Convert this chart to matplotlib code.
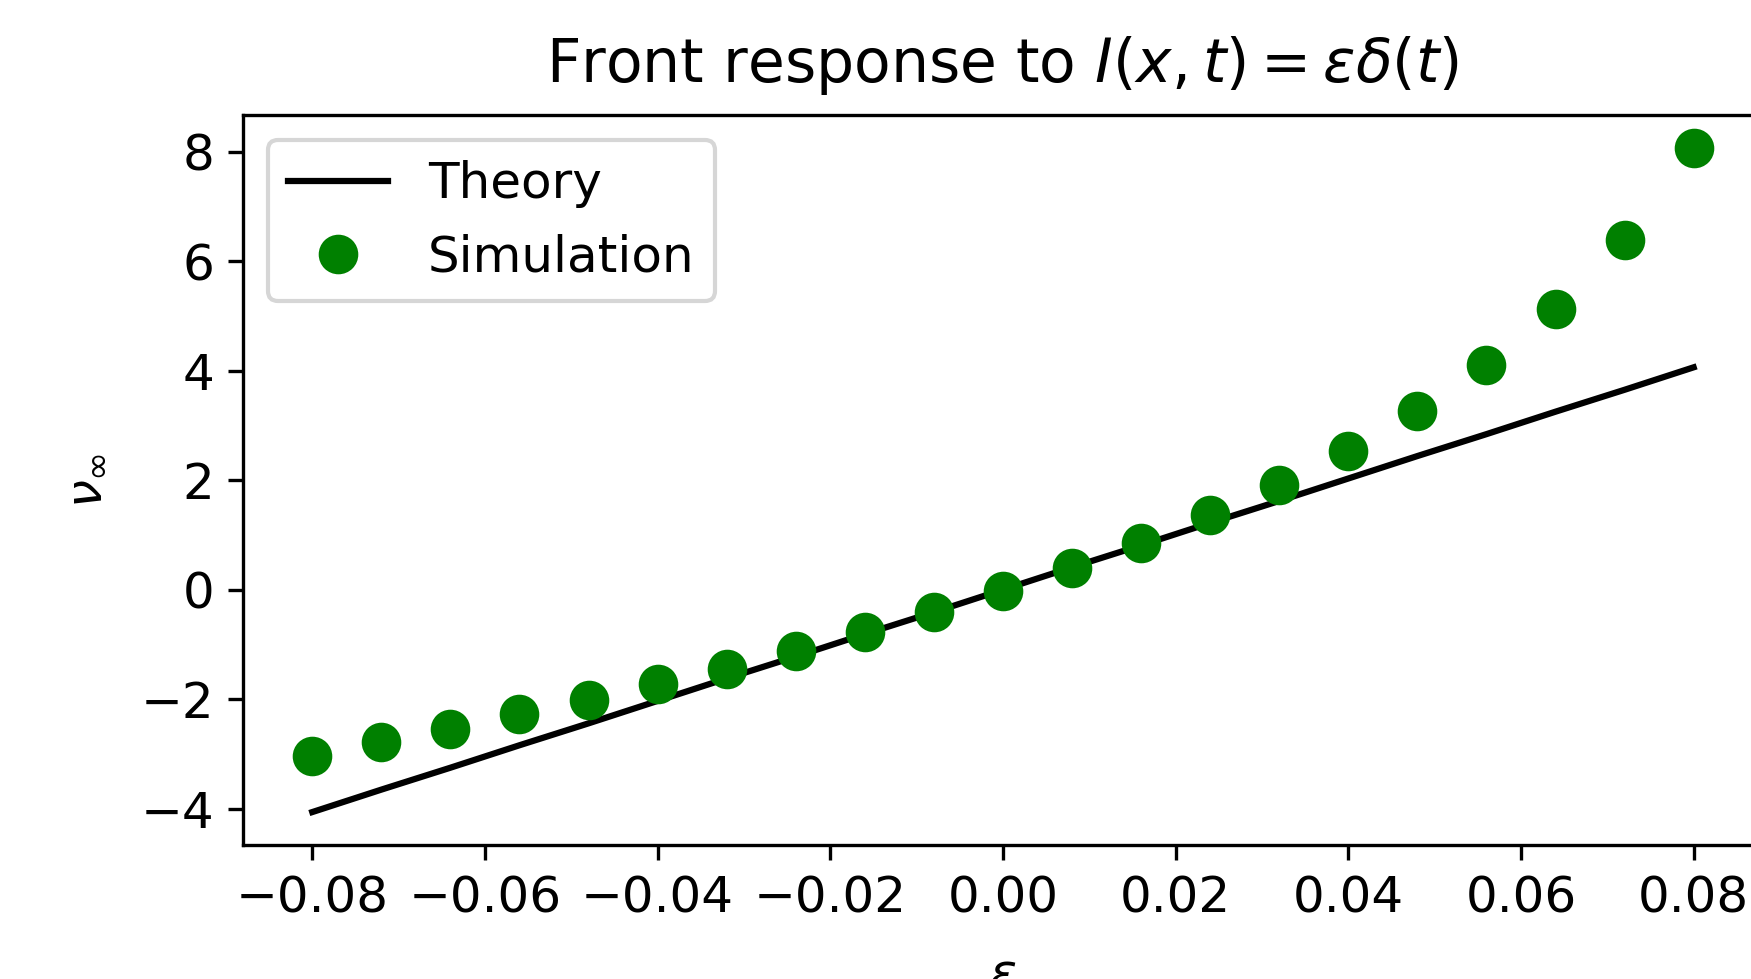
import matplotlib
matplotlib.use("Agg")
import matplotlib.pyplot as plt

plt.rcParams["font.size"] = 12

# perturbation amplitude epsilon
eps = [-0.080, -0.072, -0.064, -0.056, -0.048, -0.040, -0.032, -0.024, -0.016, -0.008,
       0.000, 0.008, 0.016, 0.024, 0.032, 0.040, 0.048, 0.056, 0.064, 0.072, 0.080]

# linear theory for the asymptotic shift
v_theory = [-4.06, -3.65, -3.25, -2.84, -2.44, -2.03, -1.62, -1.22, -0.81, -0.41,
            0.00, 0.41, 0.81, 1.22, 1.62, 2.03, 2.44, 2.84, 3.25, 3.65, 4.06]

# simulated front response
v_sim = [-3.03, -2.78, -2.54, -2.27, -2.01, -1.73, -1.44, -1.12, -0.77, -0.41,
         -0.02, 0.40, 0.85, 1.37, 1.91, 2.54, 3.27, 4.10, 5.12, 6.38, 8.06]

fig = plt.figure(figsize=(1751 / 300, 979 / 300), dpi=300)
ax = fig.add_axes([0.1389, 0.1366, 0.8678, 0.7459])

ax.plot(eps, v_theory, "-", color="black", label="Theory")
ax.plot(eps, v_sim, "o", color="green", markersize=8.5, label="Simulation")

ax.set_xticks([-0.08, -0.06, -0.04, -0.02, 0.0, 0.02, 0.04, 0.06, 0.08])
ax.set_yticks([-4, -2, 0, 2, 4, 6, 8])
ax.set_xlabel(r"$\epsilon$", labelpad=6.8)
ax.set_ylabel(r"$\nu_\infty$", labelpad=7.5)
ax.set_title(r"Front response to $I(x,t) = \epsilon\delta(t)$", pad=8)
ax.legend(loc="upper left")

fig.savefig("out.png", dpi=300)
